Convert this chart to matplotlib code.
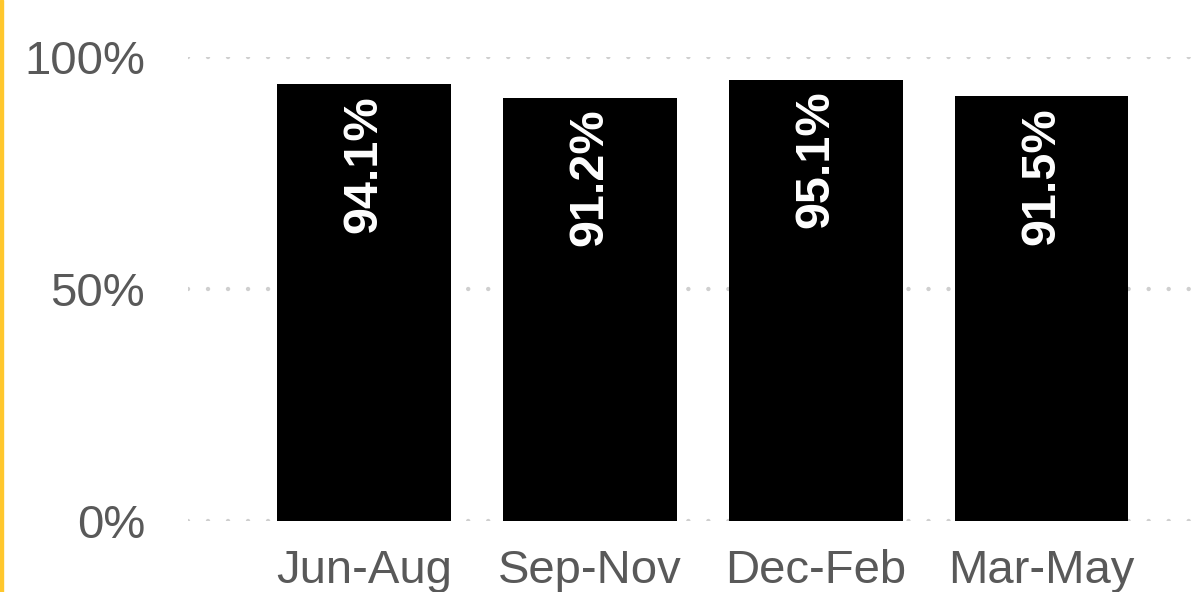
import matplotlib.pyplot as plt
from matplotlib.patches import Rectangle

plt.rcParams['font.family'] = ['Liberation Sans', 'DejaVu Sans']
plt.rcParams['lines.scale_dashes'] = False

# data
seasons = ['Jun-Aug', 'Sep-Nov', 'Dec-Feb', 'Mar-May']
share = [94.1, 91.2, 95.1, 91.5]
y_ticks = [0, 50, 100]
y_labels = ['0%', '50%', '100%']

fig = plt.figure(figsize=(12.04, 5.92), dpi=100)
ax = fig.add_axes([188 / 1204, 71 / 592, 1 - 188 / 1204, 464 / 592])

x = range(len(seasons))
bars = ax.bar(x, share, width=0.77, color='black', zorder=3)

for xi, v in zip(x, share):
    ax.text(xi, v - 2.3, f'{v:.1f}%', rotation=90, ha='center', va='top',
            color='white', fontsize=35, fontweight='bold', zorder=4)

ax.set_xlim(-0.78, 3.72)
ax.set_ylim(0, 100)
ax.set_yticks(y_ticks)
ax.set_yticklabels(y_labels)
ax.set_xticks(list(x))
ax.set_xticklabels(seasons)
ax.tick_params(axis='y', length=0, pad=31, labelsize=34, labelcolor='#595959')
ax.tick_params(axis='x', length=0, pad=20, labelsize=34, labelcolor='#595959')

ax.yaxis.grid(True, color='#cfcfcf', linewidth=3.2, linestyle=(0, (0.01, 14.4)),
              dash_capstyle='round', zorder=0)
ax.set_axisbelow(True)
for s in ax.spines.values():
    s.set_visible(False)

# yellow accent strip on the left
fig.patches.append(Rectangle((0, 0), 3 / 1204, 1, transform=fig.transFigure,
                             color='#FFC72C', zorder=5))

fig.savefig('out.png', dpi=100)
